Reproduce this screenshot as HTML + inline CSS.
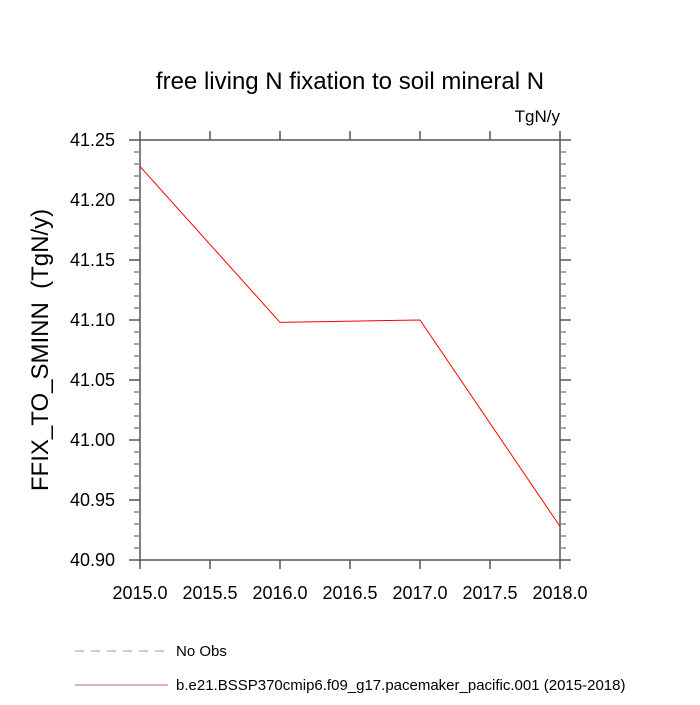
<!DOCTYPE html>
<html><head><meta charset="utf-8"><style>
body{margin:0;background:#fff;font-family:"Liberation Sans",sans-serif}
svg text{font-family:"Liberation Sans",sans-serif}
</style></head><body>
<svg id="chart" width="700" height="700">
<text x="350" y="89" text-anchor="middle" font-size="24">free living N fixation to soil mineral N</text>
<text x="560" y="122" text-anchor="end" font-size="17">TgN/y</text>
<text transform="translate(48,350) rotate(-90)" text-anchor="middle" font-size="24" xml:space="preserve" style="white-space:pre">FFIX_TO_SMINN  (TgN/y)</text>
<g id="axes"></g>
<g id="series"></g>
<g>
<line x1="75" y1="651" x2="168" y2="651" stroke="#999" stroke-dasharray="9,7"/>
<text x="176" y="656" font-size="15">No Obs</text>
<line x1="75" y1="685" x2="168" y2="685" stroke="#d06070"/>
<text x="176" y="690" font-size="15">b.e21.BSSP370cmip6.f09_g17.pacemaker_pacific.001 (2015-2018)</text>
</g>
</svg>
<script>
const years=[2015,2016,2017,2018];
const values=[41.228,41.098,41.100,40.928];
const xTicks=[2015.0,2015.5,2016.0,2016.5,2017.0,2017.5,2018.0];
const yTicks=[40.90,40.95,41.00,41.05,41.10,41.15,41.20,41.25];
const X0=140,X1=560,Y0=140,Y1=560;
const xs=v=>X0+(v-2015)/3*(X1-X0);
const ys=v=>Y1-(v-40.90)/0.35*(Y1-Y0);
const NS="http://www.w3.org/2000/svg";
const ax=document.getElementById('axes');
function mk(t,a,p){const e=document.createElementNS(NS,t);for(const k in a)e.setAttribute(k,a[k]);p.appendChild(e);return e;}
const fr=mk('rect',{x:X0,y:Y0,width:X1-X0,height:Y1-Y0,fill:'none',stroke:'#555','stroke-width':1.5},ax);


xTicks.forEach(t=>{const x=xs(t);
mk('line',{x1:x,y1:Y1,x2:x,y2:Y1+9,stroke:'#555','stroke-width':1.5},ax);
mk('line',{x1:x,y1:Y0,x2:x,y2:Y0-9,stroke:'#555','stroke-width':1.5},ax);
const tx=mk('text',{x:x,y:Y1+39,'text-anchor':'middle','font-size':18},ax);tx.textContent=t.toFixed(1);

});
for(let i=0;i<=35;i++){const v=40.90+i*0.01,y=ys(v),maj=i%5==0,l=maj?11:6;
mk('line',{x1:X0,y1:y,x2:X0-l,y2:y,stroke:maj?'#555':'#888','stroke-width':1.5},ax);
mk('line',{x1:X1,y1:y,x2:X1+l,y2:y,stroke:maj?'#555':'#888','stroke-width':1.5},ax);}
yTicks.forEach(t=>{const tx=mk('text',{x:X0-25,y:ys(t)+6,'text-anchor':'end','font-size':18},ax);tx.textContent=t.toFixed(2);

});
const pl=mk('polyline',{points:years.map((y,i)=>xs(y)+','+ys(values[i])).join(' '),fill:'none',stroke:'#f00','stroke-width':1},document.getElementById('series'));


</script>
</body></html>
